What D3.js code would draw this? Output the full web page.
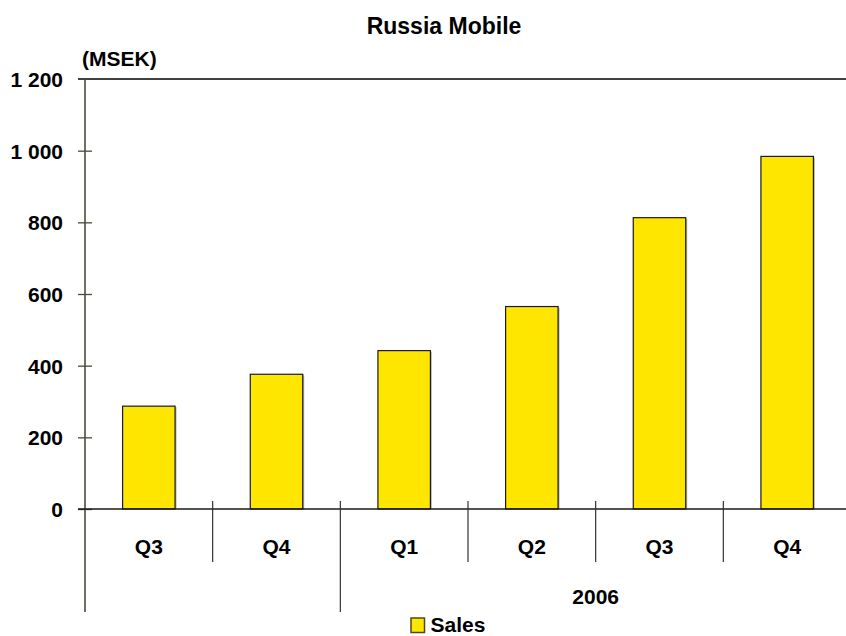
<!DOCTYPE html>
<html>
<head>
<meta charset="utf-8">
<script src="https://cdn.jsdelivr.net/npm/d3@7"></script>
<style>
  html, body { margin: 0; padding: 0; background: #fff; }
  svg { display: block; }
  text { font-family: "Liberation Sans", Arial, sans-serif; font-weight: bold; fill: #000; }
</style>
</head>
<body>
<svg id="chart" width="846" height="636"></svg>
<script>
// Quarterly sales, Russia Mobile (MSEK)
const quarters = ["Q3", "Q4", "Q1", "Q2", "Q3", "Q4"];
const sales = [287, 376, 442, 565, 813, 984];
const yearLabels = ["", "2006"];
const quartersPerYear = [2, 4];
const yTicks = [0, 200, 400, 600, 800, 1000, 1200];
const seriesName = "Sales";
const chartTitle = "Russia Mobile";
const unitLabel = "(MSEK)";

const barFill = "#FFE600";
const axisColor = "#4d4a3a";

const svg = d3.select("#chart");
const W = 846, H = 636;
const plot = { left: 85, right: 851, top: 79, bottom: 509 };

const idx = d3.range(quarters.length);
const innerPad = 0.589;
const x = d3.scaleBand().domain(idx).range([plot.left, plot.right])
  .paddingInner(innerPad).paddingOuter(innerPad / 2);
const slot = d3.scaleBand().domain(idx).range([plot.left, plot.right]).padding(0);
const y = d3.scaleLinear().domain([0, d3.max(yTicks)]).range([plot.bottom, plot.top]);

const fmt = d3.formatLocale({ decimal: ",", thousands: " ", grouping: [3], currency: ["", ""] }).format(",d");

// Title and unit
svg.append("text").attr("x", 444).attr("y", 34).attr("text-anchor", "middle")
  .style("font-size", "23px").text(chartTitle);
svg.append("text").attr("x", 82).attr("y", 66)
  .style("font-size", "21px").text(unitLabel);

// Top frame line at the axis maximum
svg.append("line")
  .attr("x1", plot.left - 7).attr("x2", W)
  .attr("y1", y(d3.max(yTicks))).attr("y2", y(d3.max(yTicks)))
  .attr("stroke", "#000").attr("stroke-width", 1.5);

// Bars with a faint drop shadow on the right
const bars = svg.append("g");
bars.selectAll("rect.shadow").data(idx).join("rect")
  .attr("class", "shadow")
  .attr("x", i => x(i) + 1.5)
  .attr("y", i => y(sales[i]) + 1)
  .attr("width", x.bandwidth())
  .attr("height", i => plot.bottom - y(sales[i]) - 1)
  .attr("fill", "#b8b8b8");
bars.selectAll("rect.bar").data(idx).join("rect")
  .attr("class", "bar")
  .attr("x", i => x(i))
  .attr("y", i => y(sales[i]))
  .attr("width", x.bandwidth())
  .attr("height", i => plot.bottom - y(sales[i]))
  .attr("fill", barFill)
  .attr("stroke", "#1a1a1a")
  .attr("stroke-width", 1.2);

// Y axis
const yAxis = d3.axisLeft(y).tickValues(yTicks).tickFormat(fmt)
  .tickSizeInner(7).tickSizeOuter(0).tickPadding(15);
const gy = svg.append("g").attr("transform", `translate(${plot.left},0)`).call(yAxis);
gy.select(".domain").remove();
gy.selectAll(".tick line").attr("x2", -7).attr("x1", 7)
  .attr("stroke", axisColor).attr("stroke-width", 1.3);
gy.selectAll(".tick text").style("font-size", "21px").style("font-family", null)
  .attr("dy", "0.36em");
gy.selectAll(".tick").filter(d => d === d3.max(yTicks)).select("line").remove();

// Vertical axis line, continued down through the category rows
svg.append("line")
  .attr("x1", plot.left).attr("x2", plot.left)
  .attr("y1", plot.top).attr("y2", 612)
  .attr("stroke", axisColor).attr("stroke-width", 1.6);

// Zero baseline
svg.append("line")
  .attr("x1", plot.left - 7).attr("x2", W)
  .attr("y1", y(0)).attr("y2", y(0))
  .attr("stroke", "#1a1a1a").attr("stroke-width", 1.5);

// Category separators: short between quarters, long between years
const groupStarts = [];
let acc = 0;
quartersPerYear.forEach(n => { groupStarts.push(acc); acc += n; });
const seps = d3.range(1, quarters.length + 1);
svg.append("g").selectAll("line").data(seps).join("line")
  .attr("x1", i => i < quarters.length ? slot(i) : plot.right)
  .attr("x2", i => i < quarters.length ? slot(i) : plot.right)
  .attr("y1", 501)
  .attr("y2", i => groupStarts.includes(i) || i === quarters.length ? 612 : 562)
  .attr("stroke", "#333").attr("stroke-width", 1.2);

// Quarter labels
svg.append("g").selectAll("text").data(idx).join("text")
  .attr("x", i => slot(i) + slot.bandwidth() / 2)
  .attr("y", 554)
  .attr("text-anchor", "middle")
  .style("font-size", "21px")
  .text(i => quarters[i]);

// Year labels centred under each group of quarters
svg.append("g").selectAll("text").data(yearLabels).join("text")
  .attr("x", (d, k) => {
    const s = groupStarts[k], e = s + quartersPerYear[k];
    const x0 = slot(s), x1 = e < quarters.length ? slot(e) : plot.right;
    return (x0 + x1) / 2;
  })
  .attr("y", 604)
  .attr("text-anchor", "middle")
  .style("font-size", "21px")
  .text(d => d);

// Legend
const lg = svg.append("g").attr("transform", "translate(411,618)");
lg.append("rect").attr("width", 13.5).attr("height", 14.5)
  .attr("fill", barFill).attr("stroke", "#4d4a1a").attr("stroke-width", 1.5);
lg.append("text").attr("x", 19.5).attr("y", 14.3)
  .style("font-size", "21px").text(seriesName);
</script>
</body>
</html>
